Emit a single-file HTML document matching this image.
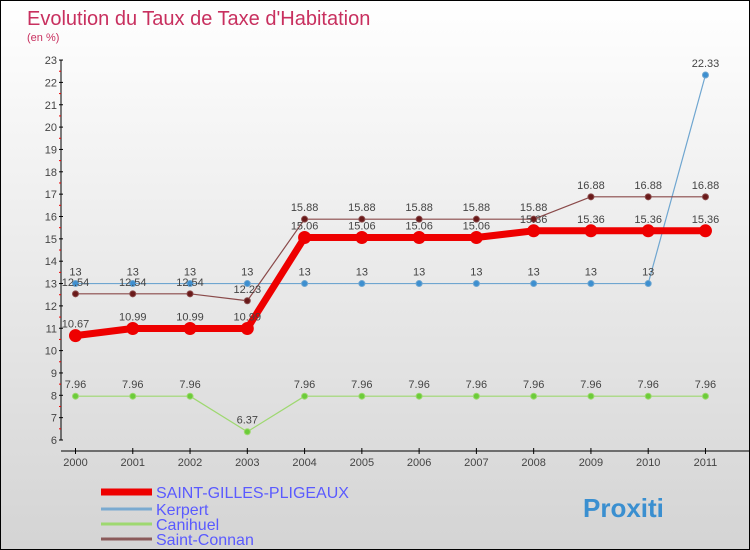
<!DOCTYPE html>
<html><head><meta charset="utf-8"><style>
body{margin:0}
#c{width:748px;height:548px;border:1px solid #000;background:linear-gradient(#fff,#d4d4d4);position:relative;font-family:"Liberation Sans",sans-serif;overflow:hidden}
svg text{font-family:"Liberation Sans",sans-serif}
</style></head><body>
<div id="c">
<svg id="s" width="748" height="548">
<text x="26" y="24" font-size="20" fill="#c8305f">Evolution du Taux de Taxe d'Habitation</text>
<text x="26" y="40" font-size="11" fill="#c8305f">(en %)</text>
</svg>
</div>
<script>
const years=["2000","2001","2002","2003","2004","2005","2006","2007","2008","2009","2010","2011"];
const sgp=[10.67,10.99,10.99,10.99,15.06,15.06,15.06,15.06,15.36,15.36,15.36,15.36];
const kerpert=[13,13,13,13,13,13,13,13,13,13,13,22.33];
const canihuel=[7.96,7.96,7.96,6.37,7.96,7.96,7.96,7.96,7.96,7.96,7.96,7.96];
const connan=[12.54,12.54,12.54,12.23,15.88,15.88,15.88,15.88,15.88,16.88,16.88,16.88];
const yTicks=[6,7,8,9,10,11,12,13,14,15,16,17,18,19,20,21,22,23];
const s=document.getElementById('s');const NS='http://www.w3.org/2000/svg';
function X(i){return 74.5+i*57.27;}
function Y(v){return 439-(v-6)*22.35;}
function mk(t,a,p){const e=document.createElementNS(NS,t);for(const k in a)e.setAttribute(k,a[k]);(p||s).appendChild(e);return e;}
// axes
let ax=mk('line',{x1:60,y1:Y(23),x2:60,y2:Y(6),stroke:'#000'});


let xx=mk('line',{x1:60,y1:450,x2:748,y2:450,stroke:'#000'});


yTicks.forEach(v=>{
 mk('line',{x1:58,y1:Y(v),x2:62,y2:Y(v),stroke:'#000'});
 if(v<23)mk('line',{x1:58,y1:Y(v+0.5),x2:60,y2:Y(v+0.5),stroke:'#e00'});
 const t=mk('text',{x:56,y:Y(v)+4,'font-size':11,'text-anchor':'end',fill:'#444'});t.textContent=v;
 
 
});
years.forEach((y,i)=>{
 mk('line',{x1:X(i),y1:447,x2:X(i),y2:453,stroke:'#000'});
 const t=mk('text',{x:X(i),y:465,'font-size':11,'text-anchor':'middle',fill:'#444'});t.textContent=y;
 
 
});
function series(d,color,w,r,name,dot){
 const g=mk('g',{});
 
 
 mk('polyline',{points:d.map((v,i)=>X(i)+','+Y(v)).join(' '),fill:'none',stroke:color,'stroke-width':w,'stroke-linejoin':'round'},g);
 d.forEach((v,i)=>{
  const c=mk('circle',{cx:X(i),cy:Y(v),r:r,fill:dot,stroke:color,'stroke-width':1},g);
  
  
  const t=mk('text',{x:X(i),y:Y(v)-8,'font-size':11,'text-anchor':'middle',fill:'#444'},g);t.textContent=v;
 });
}
series(kerpert,'#6fa6d0',1.2,3,'series-kerpert','#3d8fd0');
series(canihuel,'#9ed870',1.2,3,'series-canihuel','#6ccc3a');
series(connan,'#8a4a4a',1.2,3,'series-saint-connan','#6a1a1a');
series(sgp,'#ee0000',7,6,'series-saint-gilles-pligeaux','#ee0000');
const leg=[["SAINT-GILLES-PLIGEAUX",'#ee0000',7,491],["Kerpert",'#7aaad0',3,508],["Canihuel",'#9ed870',3,523],["Saint-Connan",'#8a5a5a',3,538]];
leg.forEach(l=>{
 const g=mk('g',{});
 
 
 mk('line',{x1:100,y1:l[3],x2:151,y2:l[3],stroke:l[1],'stroke-width':l[2]},g);
 const t=mk('text',{x:155,y:l[3]+6,'font-size':16,fill:'#5a5aff'},g);t.textContent=l[0];
});
const p=mk('text',{x:582,y:516,'font-size':26,'font-weight':'bold',fill:'#3a8fd0'});
p.textContent='Proxiti';


</script>
</body></html>
